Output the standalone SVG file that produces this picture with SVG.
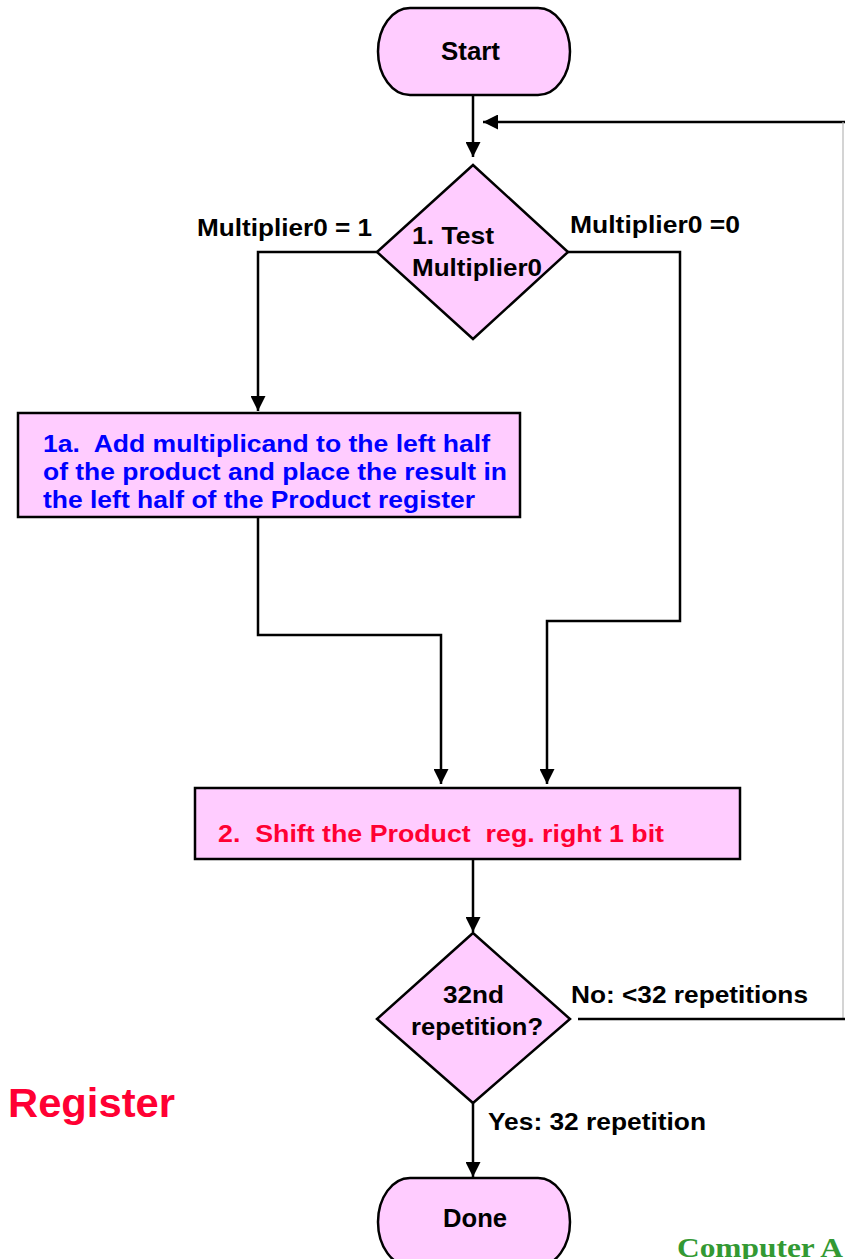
<svg xmlns="http://www.w3.org/2000/svg" width="845" height="1259" viewBox="0 0 845 1259">
  <defs>
    <marker id="arrow" viewBox="0 0 10 10" refX="10" refY="5" markerWidth="15" markerHeight="15" markerUnits="userSpaceOnUse" orient="auto">
      <path d="M0,0 L10,5 L0,10 Z" fill="#000"/>
    </marker>
    <style>
      .shape { fill: #ffccff; stroke: #000; stroke-width: 2.5; }
      .wire { fill: none; stroke: #000; stroke-width: 2.5; }
      .lbl { font-family: "Liberation Sans", Arial, sans-serif; font-weight: bold; fill: #000; white-space: pre; }
      .blue { fill: #0000ff; }
      .red { fill: #ff0033; }
    </style>
  </defs>
  <rect width="845" height="1259" fill="#fff"/>

  <!-- connectors -->
  <g id="connectors">
    <path class="wire" d="M473,95 V157" marker-end="url(#arrow)"/>
    <path class="wire" d="M845,122 H483" marker-end="url(#arrow)"/>
    <path d="M843,122 V1019" fill="none" stroke="#b8b8b8" stroke-width="1.2"/>
    <path class="wire" d="M377,252 H258 V411" marker-end="url(#arrow)"/>
    <path class="wire" d="M568,252 H680 V621 H547 V784" marker-end="url(#arrow)"/>
    <path class="wire" d="M258,517 V635 H441 V784" marker-end="url(#arrow)"/>
    <path class="wire" d="M473,859 V932" marker-end="url(#arrow)"/>
    <path class="wire" d="M578,1019 H845"/>
    <path class="wire" d="M473,1103 V1177" marker-end="url(#arrow)"/>
  </g>

  <!-- Start terminator -->
  <g id="start">
    <rect class="shape" x="378" y="8" width="192" height="87" rx="32" ry="43.5"/>
    <text class="lbl" x="441" y="60" font-size="25" textLength="59" lengthAdjust="spacingAndGlyphs">Start</text>
  </g>

  <!-- Decision: test multiplier bit 0 -->
  <g id="test-multiplier">
    <polygon class="shape" points="473,165 568,252 473,339 377,252"/>
    <text class="lbl" x="412" y="244" font-size="24" textLength="82" lengthAdjust="spacingAndGlyphs">1. Test</text>
    <text class="lbl" x="412" y="276" font-size="24" textLength="130" lengthAdjust="spacingAndGlyphs">Multiplier0</text>
  </g>

  <!-- Branch labels -->
  <g id="branch-labels">
    <text class="lbl" x="197" y="236" font-size="24" textLength="175" lengthAdjust="spacingAndGlyphs">Multiplier0 = 1</text>
    <text class="lbl" x="570" y="233" font-size="24" textLength="170" lengthAdjust="spacingAndGlyphs">Multiplier0 =0</text>
  </g>

  <!-- Step 1a: add multiplicand -->
  <g id="add-step">
    <rect class="shape" x="18" y="413" width="502" height="104"/>
    <text class="lbl blue" x="43" y="452" font-size="24" textLength="447" lengthAdjust="spacingAndGlyphs" xml:space="preserve">1a.  Add multiplicand to the left half</text>
    <text class="lbl blue" x="43" y="480" font-size="24" textLength="464" lengthAdjust="spacingAndGlyphs">of the product and place the result in</text>
    <text class="lbl blue" x="43" y="508" font-size="24" textLength="432" lengthAdjust="spacingAndGlyphs">the left half of the Product register</text>
  </g>

  <!-- Step 2: shift product -->
  <g id="shift-step">
    <rect class="shape" x="195" y="788" width="545" height="71"/>
    <text class="lbl red" x="218" y="842" font-size="24" textLength="446" lengthAdjust="spacingAndGlyphs" xml:space="preserve">2.  Shift the Product  reg. right 1 bit</text>
  </g>

  <!-- Decision: repetition count -->
  <g id="repeat-test">
    <polygon class="shape" points="473,933 570,1019 473,1103 377,1019"/>
    <text class="lbl" x="443" y="1003" font-size="24" textLength="61" lengthAdjust="spacingAndGlyphs">32nd</text>
    <text class="lbl" x="411" y="1035" font-size="24" textLength="132" lengthAdjust="spacingAndGlyphs">repetition?</text>
  </g>

  <g id="loop-labels">
    <text class="lbl" x="571" y="1003" font-size="24" textLength="237" lengthAdjust="spacingAndGlyphs">No: &lt;32 repetitions</text>
    <text class="lbl" x="488" y="1130" font-size="24" textLength="218" lengthAdjust="spacingAndGlyphs">Yes: 32 repetition</text>
  </g>

  <!-- Done terminator -->
  <g id="done">
    <rect class="shape" x="378" y="1178" width="192" height="88" rx="32" ry="44"/>
    <text class="lbl" x="443" y="1227" font-size="25" textLength="64" lengthAdjust="spacingAndGlyphs">Done</text>
  </g>

  <!-- Side captions -->
  <text class="lbl red" x="8" y="1117" font-size="40" textLength="167" lengthAdjust="spacingAndGlyphs">Register</text>
  <text x="677" y="1257" font-family="'Liberation Serif', 'Times New Roman', serif" font-weight="bold" font-size="28" fill="#339933" textLength="166" lengthAdjust="spacingAndGlyphs">Computer A</text>
</svg>
